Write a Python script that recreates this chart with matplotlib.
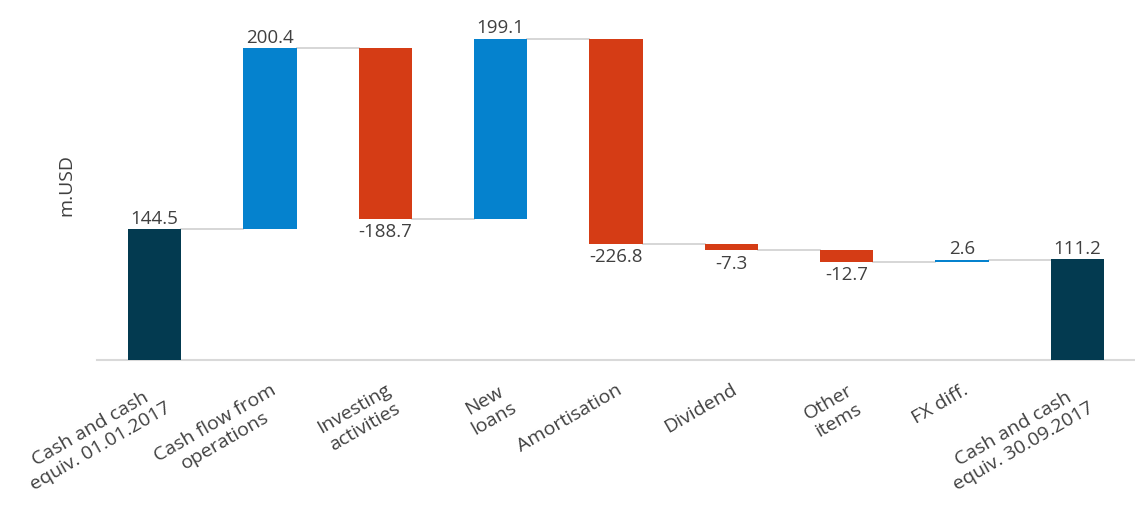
import numpy as np
import matplotlib.pyplot as plt

plt.rcParams['font.family'] = ['Open Sans', 'DejaVu Sans']

categories = ['Cash and cash\nequiv. 01.01.2017', 'Cash flow from\noperations', 'Investing\nactivities',
              'New\nloans', 'Amortisation', 'Dividend', 'Other\nitems', 'FX diff.',
              'Cash and cash\nequiv. 30.09.2017']
values = [144.5, 200.4, -188.7, 199.1, -226.8, -7.3, -12.7, 2.6, 111.2]
is_total = [True, False, False, False, False, False, False, False, True]

dark = '#033a50'
blue = '#0582ce'
red = '#d53c15'
grey_text = '#404040'
line_col = '#cfcfcf'

# compute bottoms / tops for the waterfall
bottoms = []
tops = []
running = 0.0
for v, tot in zip(values, is_total):
    if tot:
        bottoms.append(0.0)
        tops.append(v)
        running = v
    else:
        new = running + v
        bottoms.append(min(running, new))
        tops.append(max(running, new))
        running = new

colors = [dark if t else (blue if v > 0 else red) for v, t in zip(values, is_total)]

fig = plt.figure(figsize=(11.35, 5.09), dpi=100)
ax = fig.add_axes([97 / 1135, 1 - 360 / 509, 1 - 97 / 1135, 360 / 509])

x = np.arange(len(values))
width = 0.46
heights = [t - b for t, b in zip(tops, bottoms)]
ax.bar(x, heights, bottom=bottoms, width=width, color=colors, zorder=3)

# connector lines
for i in range(len(values) - 1):
    if is_total[i]:
        level = values[i]
    else:
        level = tops[i] if values[i] > 0 else bottoms[i]
    ax.plot([x[i] + width / 2, x[i + 1] - width / 2], [level, level],
            color=line_col, lw=1.2, zorder=2)

# value labels
for i, (v, t) in enumerate(zip(values, is_total)):
    if t or v > 0:
        ax.annotate(f'{v:.1f}', (x[i], tops[i]), xytext=(0, 1), textcoords='offset points',
                    ha='center', va='bottom', fontsize=13.5, color=grey_text)
    else:
        ax.annotate(f'{v:.1f}', (x[i], bottoms[i]), xytext=(0, -3), textcoords='offset points',
                    ha='center', va='top', fontsize=13.5, color=grey_text)

ax.set_xlim(-0.5, len(values) - 0.5)
ax.set_ylim(0, 398)
ax.set_yticks([])
ax.set_xticks(x)
ax.set_xticklabels(categories, rotation=30, ha='right', rotation_mode='anchor',
                   multialignment='center', fontsize=14, color=grey_text, linespacing=1.2)
ax.tick_params(axis='x', length=0, pad=15)
for side in ['top', 'right', 'left']:
    ax.spines[side].set_visible(False)
ax.spines['bottom'].set_color('#d9d9d9')
ax.spines['bottom'].set_linewidth(1.5)

fig.text(66 / 1135, 1 - 185 / 509, 'm.USD', rotation=90, ha='center', va='center',
         fontsize=14, color=grey_text)

fig.savefig('out.png', dpi=100)
